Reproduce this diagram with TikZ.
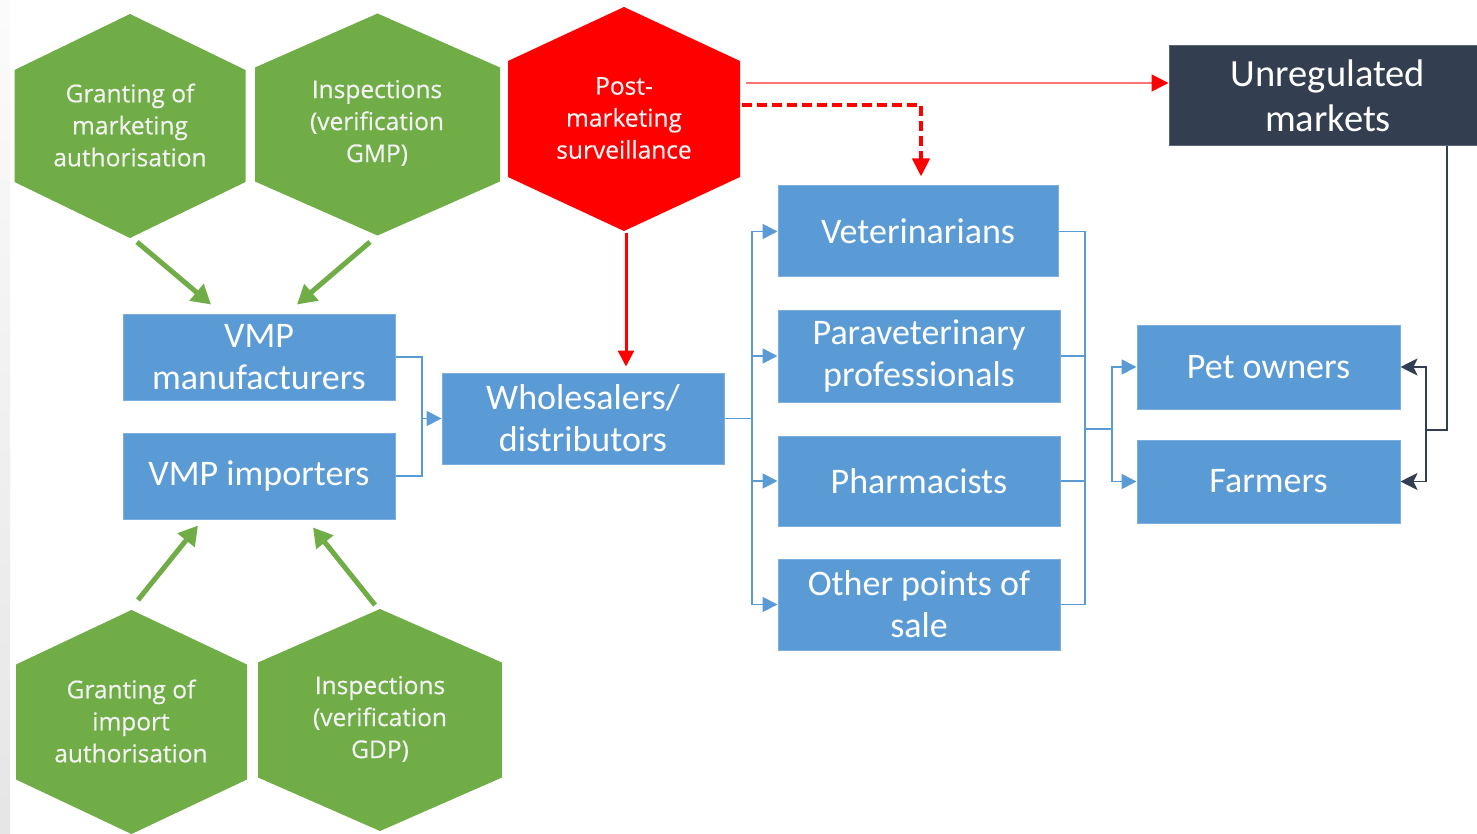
\documentclass[tikz,border=0pt]{standalone}
\usepackage{fontspec}
\newfontfamily\carl{Carlito}
\newfontfamily\opsans[FakeBold=0.5]{Open Sans}
\usetikzlibrary{arrows.meta,calc}
\definecolor{hgreen}{HTML}{70AD47}
\definecolor{bblue}{HTML}{5B9BD5}
\definecolor{dslate}{HTML}{333F50}
\definecolor{rred}{HTML}{FF0000}
\newcommand\hexpath[6]{\fill[#1] ({#2-#4},{#3-#6}) -- (#2,{#3-#5}) -- ({#2+#4},{#3-#6}) -- ({#2+#4},{#3+#6}) -- (#2,{#3+#5}) -- ({#2-#4},{#3+#6}) -- cycle;}
\begin{document}
\begin{tikzpicture}[x=1pt,y=-1pt,
  bbox/.style={fill=bblue, draw=bblue!80!white, line width=1pt, text=white,
    font=\carl\fontsize{36}{42}\selectfont, align=center, inner sep=0pt},
  htext/.style={text=white!95!black, font=\opsans\fontsize{24.5}{32}\selectfont, align=center, inner sep=0pt},
  bline/.style={draw=bblue, line width=1.8pt},
  barrow/.style={bline, -{Triangle[length=15pt,width=15pt]}},
  dline/.style={draw=dslate, line width=1.8pt},
  darrow/.style={dline, -{Stealth[length=17pt,width=17pt,inset=4pt]}},
  garrow/.style={draw=hgreen, line width=5pt, -{Triangle[length=19pt,width=21pt]}},
  rarrow/.style={draw=rred, line width=3pt, -{Triangle[length=16pt,width=16pt]}},
  rthin/.style={draw=rred!55, line width=1.5pt, -{Triangle[length=17pt,width=17pt,color=rred]}},
  rdash/.style={draw=rred, line width=4pt, dash pattern=on 10pt off 5pt, -{Triangle[length=18pt,width=17pt]}}
]
\useasboundingbox (0,0) rectangle (1477,834);
\fill[white] (0,0) rectangle (1477,834);
\shade[top color=gray!3, bottom color=gray!20] (0,0) rectangle (10,834);

% hexagons
\hexpath{hgreen}{130}{126}{115.5}{112}{56}
\hexpath{hgreen}{377.5}{124.5}{122.5}{111}{57}
\hexpath{rred}{624}{119}{116}{112}{58}
\hexpath{hgreen}{131.5}{722}{115.5}{112}{57.5}
\hexpath{hgreen}{380}{720}{122}{111}{57.5}

\node[htext] (g1) at (130,125) {Granting of\\marketing\\authorisation};
\node[htext] (g2) at (377,123) {Inspections\\(verification\\GMP)};
\node[htext] (post) at (624,118) {Post-\\marketing\\surveillance};
\node[htext] (g4) at (131,721) {Granting of\\import\\authorisation};
\node[htext] (g5) at (380,719) {Inspections\\(verification\\GDP)};

% boxes
\node[bbox, minimum width=272pt, minimum height=86pt] (man) at (259,357) {VMP\\manufacturers};
\node[bbox, minimum width=272pt, minimum height=86pt] (imp) at (259,476) {VMP importers};
\node[bbox, minimum width=282pt, minimum height=91pt] (whole) at (583,418.5) {Wholesalers/\\distributors};
\node[bbox, minimum width=280pt, minimum height=91pt] (vet) at (918,231.5) {Veterinarians};
\node[bbox, minimum width=282pt, minimum height=92pt] (para) at (919,356) {Paraveterinary\\professionals};
\node[bbox, minimum width=282pt, minimum height=90pt] (pharm) at (919,481) {Pharmacists};
\node[bbox, minimum width=282pt, minimum height=91pt] (other) at (919,604.5) {Other points of\\sale};
\node[bbox, minimum width=263pt, minimum height=84pt] (pet) at (1268.5,367) {Pet owners};
\node[bbox, minimum width=263pt, minimum height=83pt] (farm) at (1268.5,481.5) {Farmers};
\node[bbox, fill=dslate, draw=dslate!80!white, font=\carl\fontsize{38.5}{45}\selectfont,
  minimum width=318pt, minimum height=100pt] (unreg) at (1328,96) {Unregulated\\markets};

% green arrows
\draw[garrow] ([shift={(7,117)}]g1.center) -- ([shift={(-48,-9)}]man.north);
\draw[garrow] ([shift={(-7,119)}]g2.center) -- ([shift={(38,-9)}]man.north);
\draw[garrow] ([shift={(7,-121)}]g4.center) -- ([shift={(-61,6)}]imp.south);
\draw[garrow] ([shift={(-5,-114)}]g5.center) -- ([shift={(54,8)}]imp.south);

% blue connectors
\coordinate (j1) at (422,418.5);
\draw[bline] (man.east) -| (j1) |- (imp.east);
\draw[barrow] (j1) -- (whole.west);

\coordinate (j2) at (752,418.5);
\draw[bline] (whole.east) -- (j2);
\draw[barrow] (j2) |- (vet.west);
\draw[barrow] (j2) |- (para.west);
\draw[barrow] (j2) |- (pharm.west);
\draw[barrow] (j2) |- (other.west);

\coordinate (j3) at (1085,429);
\coordinate (j4) at (1112,429);
\draw[bline] (vet.east) -| (j3);
\draw[bline] (para.east) -| (j3);
\draw[bline] (pharm.east) -| (j3);
\draw[bline] (other.east) -| (j3);
\draw[bline] (j3) -- (j4);
\draw[barrow] (j4) |- (pet.west);
\draw[barrow] (j4) |- (farm.west);

% dark connectors
\coordinate (d1) at (1447,430);
\coordinate (j5) at (1426,430);
\draw[dline] (unreg.south -| d1) -- (d1) -- (j5);
\draw[darrow] (j5) |- (pet.east);
\draw[darrow] (j5) |- (farm.east);

% red connectors
\coordinate (rtip) at ($(post.center |- whole.north)+(2,-6)$);
\draw[rarrow] ([shift={(2,115)}]post.center) -- (rtip);
\draw[rthin] ([shift={(122,-35)}]post.center) -- ([shift={(0,-13)}]unreg.west);
\draw[rdash] ([shift={(118,-13)}]post.center) -| ([shift={(3,-9)}]vet.north);
\end{tikzpicture}
\end{document}
